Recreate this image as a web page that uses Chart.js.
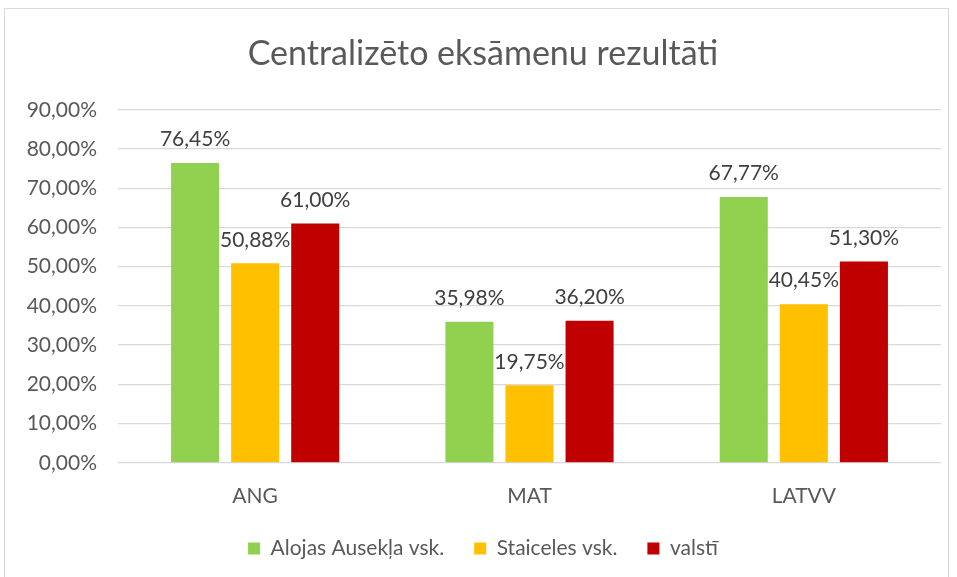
<!DOCTYPE html>
<html>
<head>
<meta charset="utf-8">
<script src="https://cdn.jsdelivr.net/npm/chart.js@4/dist/chart.umd.min.js"></script>
<style>
  html, body { margin: 0; padding: 0; background: #fff; }
  #wrap { position: absolute; left: 4px; top: 8px; width: 945px; height: 580px; border: 1.5px solid #d9d9d9; box-sizing: border-box; }
  #chart { position: absolute; left: 0; top: 0; }
</style>
</head>
<body>
<div id="wrap"></div>
<canvas id="chart" width="957" height="577"></canvas>
<script>
// Dati no attēla
const categories = ["ANG", "MAT", "LATVV"];
const seriesNames = ["Alojas Ausekļa vsk.", "Staiceles vsk.", "valstī"];
const aloja = [76.45, 35.98, 67.77];
const staicele = [50.88, 19.75, 40.45];
const valsti = [61.00, 36.20, 51.30];
const colors = ["#92d050", "#ffc000", "#c00000"];

const fontFam = "Lato, 'Open Sans', sans-serif";
const fmt = v => v.toFixed(2).replace(".", ",") + "%";

// vērtību uzraksti virs stabiņiem
const valueLabels = {
  id: "valueLabels",
  afterDatasetsDraw(chart) {
    const ctx = chart.ctx;
    ctx.save();
    ctx.font = "21px " + fontFam;
    ctx.fillStyle = "#404040";
    ctx.textAlign = "center";
    ctx.textBaseline = "bottom";
    chart.data.datasets.forEach((ds, i) => {
      chart.getDatasetMeta(i).data.forEach((bar, j) => {
        ctx.fillText(fmt(ds.data[j]), bar.x, bar.y - 13);
      });
    });
    ctx.restore();
  }
};

new Chart(document.getElementById("chart").getContext("2d"), {
  type: "bar",
  data: {
    labels: categories,
    datasets: [
      { label: seriesNames[0], data: aloja, backgroundColor: colors[0] },
      { label: seriesNames[1], data: staicele, backgroundColor: colors[1] },
      { label: seriesNames[2], data: valsti, backgroundColor: colors[2] }
    ]
  },
  options: {
    responsive: false,
    animation: false,
    datasets: { bar: { categoryPercentage: 0.657, barPercentage: 0.8 } },
    layout: { padding: { left: 25, right: 16, top: 22, bottom: 8 } },
    scales: {
      y: {
        min: 0, max: 90,
        ticks: { stepSize: 10, color: "#595959", font: { size: 21, family: fontFam }, padding: 21, callback: v => fmt(v) },
        grid: { color: "#d9d9d9", lineWidth: 1.3, drawTicks: false },
        border: { display: false },
        afterFit: s => { s.width = 93; }
      },
      x: {
        ticks: { color: "#595959", font: { size: 21, family: fontFam }, padding: 13 },
        grid: { display: false },
        border: { display: false },
        afterFit: s => { s.height -= 14; }
      }
    },
    plugins: {
      title: {
        display: true,
        text: "Centralizēto eksāmenu rezultāti",
        color: "#595959",
        font: { size: 34, family: fontFam, weight: "normal" },
        padding: { top: 12, bottom: 35 }
      },
      legend: {
        position: "bottom",
        labels: { color: "#595959", font: { size: 21, family: fontFam }, boxWidth: 12, boxHeight: 12, padding: 30 }
      },
      tooltip: { enabled: false }
    }
  },
  plugins: [valueLabels]
});
</script>
</body>
</html>
